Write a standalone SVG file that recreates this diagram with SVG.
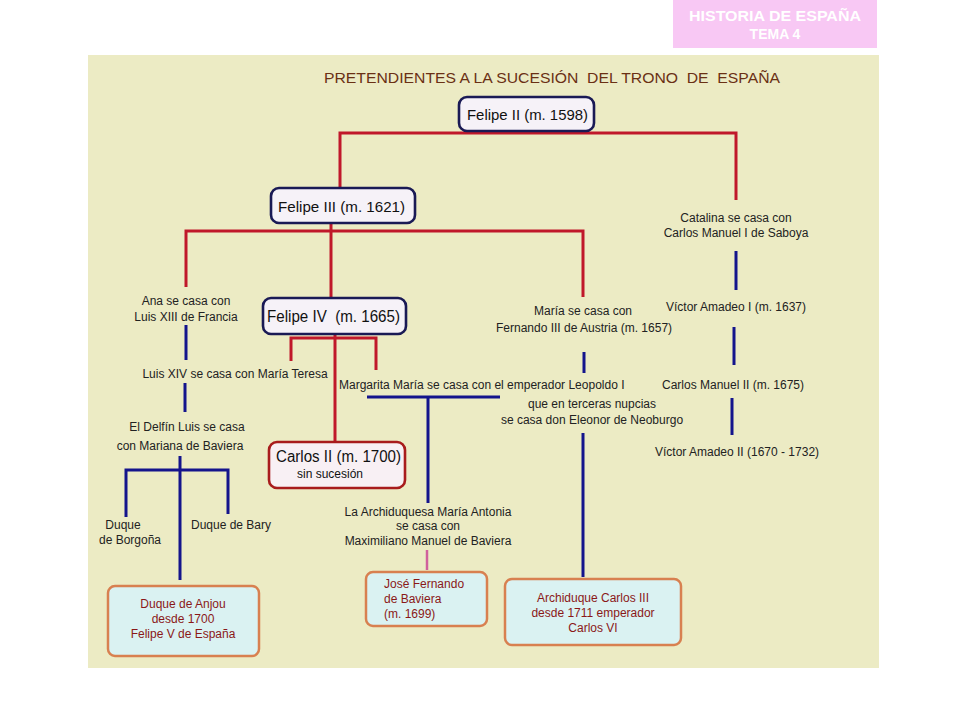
<svg xmlns="http://www.w3.org/2000/svg" width="960" height="720" viewBox="0 0 960 720">
<defs>
<style>
.t{font-family:"Liberation Sans",Arial,sans-serif;font-size:12px;fill:#222;}
.c{text-anchor:middle;}
.red{stroke:#c0182a;stroke-width:3;fill:none;}
.blue{stroke:#14148c;stroke-width:3;fill:none;}
.pink{stroke:#d0609c;stroke-width:2.5;fill:none;}
.kb{fill:#f6f2f8;stroke:#1a1a55;stroke-width:2.6;}
.rb{fill:#f8f0f4;stroke:#a81c1c;stroke-width:2.6;}
.ob{fill:#daf2f2;stroke:#d88050;stroke-width:2.5;}
.kt{font-family:"Liberation Sans",Arial,sans-serif;fill:#111;}
.ot{font-family:"Liberation Sans",Arial,sans-serif;font-size:12px;fill:#8a1818;}
</style>
</defs>
<rect width="960" height="720" fill="#ffffff"/>
<g id="header">
<rect x="673" y="0" width="204" height="48" fill="#f8c8f4"/>
<text x="775" y="21" text-anchor="middle" font-family="'Liberation Sans',Arial,sans-serif" font-weight="bold" font-size="14" fill="#ffffff" textLength="172" lengthAdjust="spacingAndGlyphs">HISTORIA DE ESPAÑA</text>
<text x="775" y="39" text-anchor="middle" font-family="'Liberation Sans',Arial,sans-serif" font-weight="bold" font-size="14" fill="#ffffff">TEMA 4</text>
</g>
<rect id="panel" x="88" y="55" width="791" height="613" fill="#ecebc4"/>
<text id="title" x="324" y="83" font-family="'Liberation Sans',Arial,sans-serif" font-size="15" fill="#6a3014" textLength="456" lengthAdjust="spacingAndGlyphs" xml:space="preserve">PRETENDIENTES A LA SUCESIÓN  DEL TRONO  DE  ESPAÑA</text>

<g id="connectors">
<path class="red" d="M340 188 V133 H736 V200"/>
<path class="red" d="M186 287 V231 H583 V297"/>
<path class="red" d="M331 223 V298"/>
<path class="red" d="M291 361 V338 H376 V370"/>
<path class="red" d="M335 334 V442"/>
<path class="blue" d="M186 325 V360"/>
<path class="blue" d="M185 383 V412"/>
<path class="blue" d="M180 456 V580"/>
<path class="blue" d="M126 517 V470 H228 V514"/>
<path class="blue" d="M367 397 H500"/>
<path class="blue" d="M428 397 V503"/>
<path class="blue" d="M584 352 V373"/>
<path class="blue" d="M583 433 V577"/>
<path class="pink" d="M427 550 V570"/>
<path class="blue" d="M736 251 V290"/>
<path class="blue" d="M734 327 V365"/>
<path class="blue" d="M732 398 V435"/>
</g>

<g id="felipe2">
<rect class="kb" x="459" y="97" width="135" height="34" rx="8"/>
<text class="kt" x="467" y="120" font-size="14.5" textLength="121" lengthAdjust="spacingAndGlyphs">Felipe II (m. 1598)</text>
</g>
<g id="felipe3">
<rect class="kb" x="271" y="188" width="144" height="35" rx="8"/>
<text class="kt" x="278" y="212" font-size="14.5" textLength="127" lengthAdjust="spacingAndGlyphs">Felipe III (m. 1621)</text>
</g>
<g id="felipe4">
<rect class="kb" x="263" y="298" width="143" height="36" rx="8"/>
<text class="kt" x="267" y="322" font-size="16" textLength="133" lengthAdjust="spacingAndGlyphs" xml:space="preserve">Felipe IV  (m. 1665)</text>
</g>
<g id="carlos2">
<rect class="rb" x="269" y="442" width="136" height="46" rx="8"/>
<text class="kt" x="276" y="462" font-size="16" textLength="125" lengthAdjust="spacingAndGlyphs">Carlos II (m. 1700)</text>
<text class="kt" x="297" y="478" font-size="12.5" textLength="66" lengthAdjust="spacingAndGlyphs">sin sucesión</text>
</g>

<g id="ana">
<text class="t c" x="186" y="305">Ana se casa con</text>
<text class="t c" x="186" y="321">Luis XIII de Francia</text>
</g>
<g id="luis14">
<text class="t c" x="235" y="378">Luis XIV se casa con María Teresa</text>
</g>
<g id="delfin">
<text class="t c" x="187" y="431">El Delfín Luis se casa</text>
<text class="t c" x="180" y="450">con Mariana de Baviera</text>
</g>
<g id="borgona">
<text class="t c" x="123" y="529">Duque</text>
<text class="t c" x="130" y="544">de Borgoña</text>
</g>
<g id="bary">
<text class="t c" x="231" y="529">Duque de Bary</text>
</g>
<g id="margarita">
<text class="t" x="339" y="389">Margarita María se casa con el emperador Leopoldo I</text>
</g>
<g id="eleonor">
<text class="t c" x="592" y="408">que en terceras nupcias</text>
<text class="t c" x="592" y="424">se casa don Eleonor de Neoburgo</text>
</g>
<g id="maria">
<text class="t c" x="583" y="315">María se casa con</text>
<text class="t c" x="584" y="332">Fernando III de Austria (m. 1657)</text>
</g>
<g id="mariaantonia">
<text class="t c" x="428" y="516">La Archiduquesa María Antonia</text>
<text class="t c" x="428" y="530">se casa con</text>
<text class="t c" x="428" y="545">Maximiliano Manuel de Baviera</text>
</g>
<g id="catalina">
<text class="t c" x="736" y="222">Catalina se casa con</text>
<text class="t c" x="736" y="237">Carlos Manuel I de Saboya</text>
</g>
<g id="victor1">
<text class="t c" x="736" y="311">Víctor Amadeo I (m. 1637)</text>
</g>
<g id="carlosmanuel2">
<text class="t c" x="733" y="389">Carlos Manuel II (m. 1675)</text>
</g>
<g id="victor2">
<text class="t c" x="737" y="456">Víctor Amadeo II (1670 - 1732)</text>
</g>

<g id="anjou">
<rect class="ob" x="108" y="586" width="151" height="70" rx="7"/>
<text class="ot c" x="183" y="608">Duque de Anjou</text>
<text class="ot c" x="183" y="623">desde 1700</text>
<text class="ot c" x="183" y="638">Felipe V de España</text>
</g>
<g id="josefernando">
<rect class="ob" x="366" y="572" width="121" height="54" rx="7"/>
<text class="ot" x="384" y="588">José Fernando</text>
<text class="ot" x="384" y="603">de Baviera</text>
<text class="ot" x="384" y="618">(m. 1699)</text>
</g>
<g id="archiduque">
<rect class="ob" x="505" y="579" width="176" height="66" rx="7"/>
<text class="ot c" x="593" y="602">Archiduque Carlos III</text>
<text class="ot c" x="593" y="617">desde 1711 emperador</text>
<text class="ot c" x="593" y="632">Carlos VI</text>
</g>
</svg>
